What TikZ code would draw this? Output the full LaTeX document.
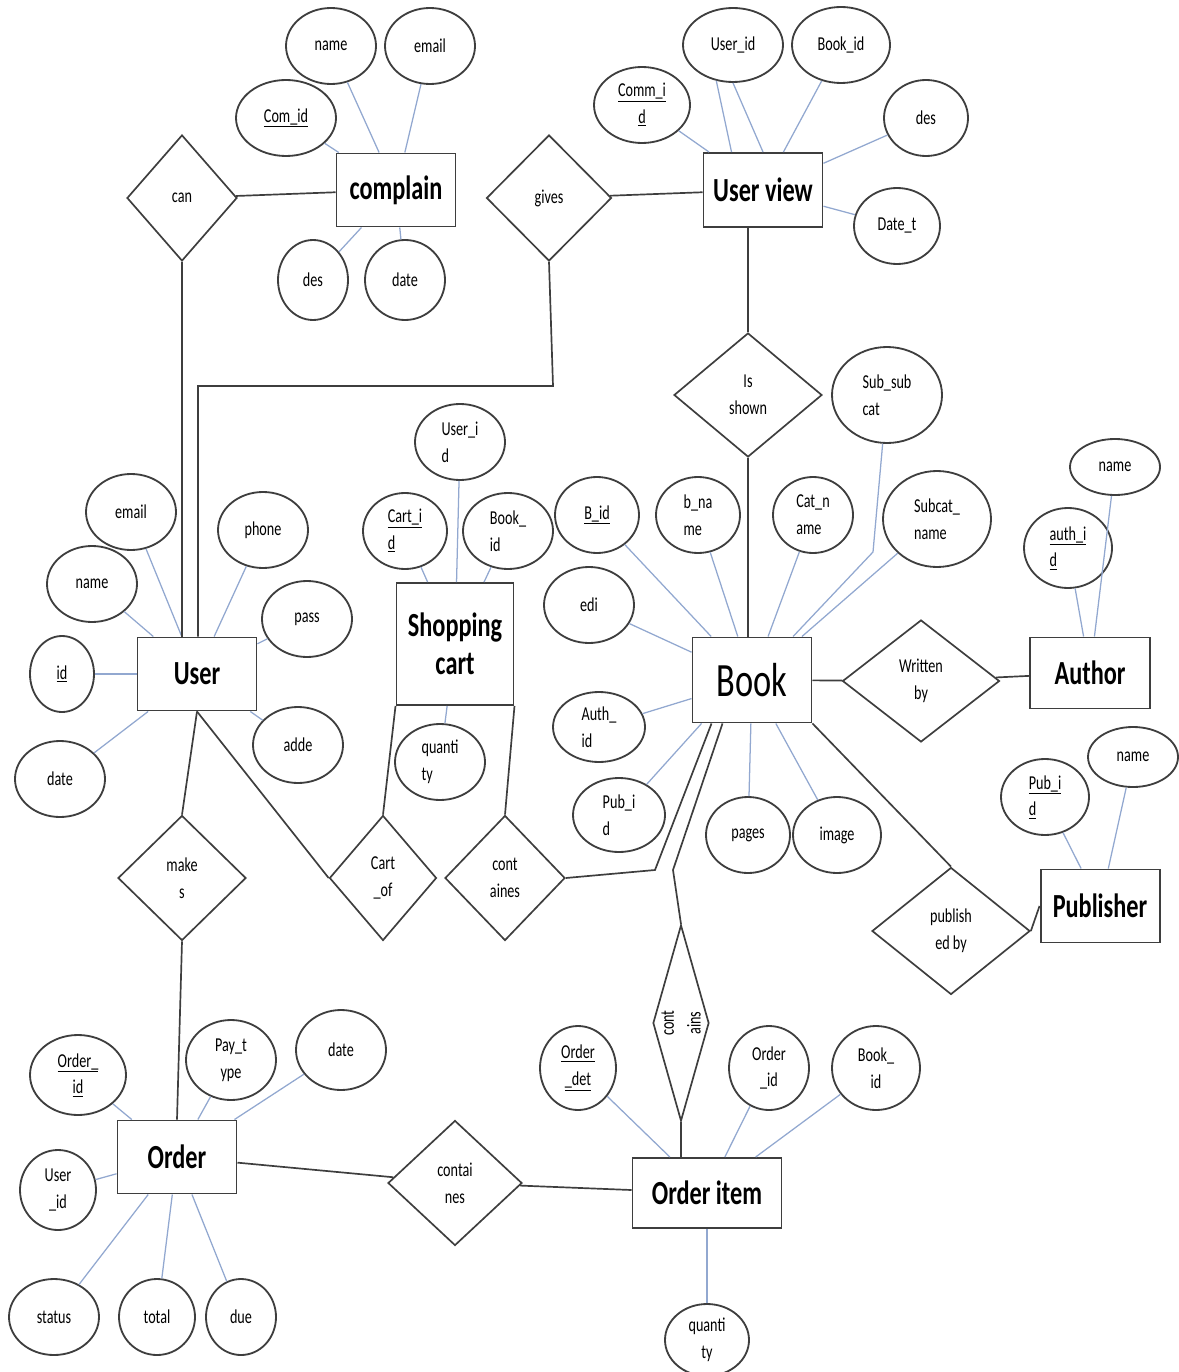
\documentclass[tikz,border=0pt]{standalone}
\usepackage{fontspec}
\newfontfamily\erfont{Carlito}[FakeStretch=0.72]
\usepackage{tikz}
\usetikzlibrary{calc,positioning,shapes.geometric}
\definecolor{edgegray}{RGB}{62,62,62}
\definecolor{attrblue}{RGB}{146,168,208}

\begin{document}
\begin{tikzpicture}[x=0.25mm,y=-0.25mm,
  sz/.style 2 args={minimum width=#1*0.25mm,minimum height=#2*0.25mm},
  ent/.style={rectangle,draw=edgegray,line width=1.4pt,inner sep=0pt,align=center,font=\erfont\fontsize{24}{27}\selectfont\bfseries},
  rel/.style={diamond,draw=edgegray,line width=1.2pt,inner sep=0pt,align=center,font=\erfont\fontsize{14}{19}\selectfont},
  attr/.style={ellipse,draw=edgegray,line width=1.3pt,inner sep=0pt,align=center,sz={90}{76},font=\erfont\fontsize{14}{19}\selectfont},
  link/.style={edgegray,line width=1.2pt},
  alink/.style={attrblue,line width=0.9pt}]
  \useasboundingbox (0,0) rectangle (1178,1372);

  \node[ent,sz={119}{73}] (eComplain) at (396,190) {complain};
  \node[ent,sz={119}{74}] (eUserView) at (763,190) {User view};
  \node[ent,sz={119}{85},font=\erfont\fontsize{34}{38}\selectfont] (eBook) at (752,680) {Book};
  \node[ent,sz={120}{71}] (eAuthor) at (1090,673) {Author};
  \node[ent,sz={119}{73}] (ePublisher) at (1100,906) {Publisher};
  \node[ent,sz={117}{122}] (eCart) at (455,644) {Shopping\\cart};
  \node[ent,sz={119}{73}] (eUser) at (197,674) {User};
  \node[ent,sz={119}{73}] (eOrder) at (177,1157) {Order};
  \node[ent,sz={149}{70}] (eOrderItem) at (707,1193) {Order item};

  \node[rel,sz={110}{126}] (rCan) at (182,198) {can};
  \node[rel,sz={125}{126}] (rGives) at (549,198) {gives};
  \node[rel,sz={148}{124}] (rShown) at (748,395) {Is\\shown};
  \node[rel,sz={157}{122}] (rWritten) at (921,681) {Written\\by};
  \node[rel,sz={158}{127}] (rPubBy) at (951,931) {publish\\ed by};
  \node[rel,sz={128}{125}] (rMakes) at (182,878) {make\\s};
  \node[rel,sz={107}{125}] (rCartOf) at (383,878) {Cart\\\_of};
  \node[rel,sz={120}{125}] (rCartHas) at (505,878) {cont\\aines};
  \node[rel,sz={196}{56},aspect=3.5,rotate=90] (rItemOf) at (681,1023) {cont\\ains};
  \node[rel,sz={134}{125}] (rOrderHas) at (455,1183) {contai\\nes};

  \node[attr] (aComName) at (331,46) {name};
  \node[attr] (aComEmail) at (430,46) {email};
  \node[attr,sz={100}{76}] (aComId) at (286,118) {\underline{Com\_id}};
  \node[attr,sz={70}{80}] (aComDes) at (313,280) {des};
  \node[attr,sz={80}{80}] (aComDate) at (405,280) {date};

  \node[attr,sz={96}{76}] (aViewComm) at (642,105) {\underline{Comm\_i}\\\underline{d}};
  \node[attr,sz={100}{74}] (aViewUser) at (733,45) {User\_id};
  \node[attr,sz={98}{76}] (aViewBook) at (841,45) {Book\_id};
  \node[attr,sz={84}{76}] (aViewDes) at (926,118) {des};
  \node[attr,sz={86}{76}] (aViewDate) at (897,226) {Date\_t};

  \node[attr,sz={110}{96},align=left] (aSubSub) at (887,395) {Sub\_sub\\cat};
  \node[attr,sz={84}{76}] (aBookId) at (597,515) {\underline{B\_id}};
  \node[attr,sz={84}{76},align=left] (aBookName) at (698,515) {b\_na\\me};
  \node[attr,sz={80}{76},align=left] (aCatName) at (813,515) {Cat\_n\\ame};
  \node[attr,sz={108}{96},align=left] (aSubcat) at (937,519) {Subcat\_\\name};
  \node[attr] (aEdi) at (589,605) {edi};
  \node[attr,sz={92}{70},align=left] (aAuthId) at (599,727) {Auth\_\\id};
  \node[attr,sz={92}{74},align=left] (aPubId) at (619,815) {Pub\_i\\d};
  \node[attr,sz={84}{76}] (aPages) at (748,835) {pages};
  \node[attr,sz={88}{76}] (aImage) at (837,835) {image};

  \node[attr,sz={88}{80},align=left] (aAuthKey) at (1068,548) {\underline{auth\_i}\\\underline{d}};
  \node[attr,sz={90}{56}] (aAuthName) at (1115,467) {name};
  \node[attr,sz={88}{76},align=left] (aPubKey) at (1045,797) {\underline{Pub\_i}\\\underline{d}};
  \node[attr,sz={90}{60}] (aPubName) at (1133,757) {name};

  \node[attr,align=left] (aCartUser) at (460,442) {User\_i\\d};
  \node[attr,sz={84}{76},align=left] (aCartId) at (405,531) {\underline{Cart\_i}\\\underline{d}};
  \node[attr,align=left] (aCartBook) at (508,531) {Book\_\\id};
  \node[attr,align=left] (aCartQty) at (440,762) {quanti\\ty};

  \node[attr] (aUserEmail) at (131,512) {email};
  \node[attr] (aUserName) at (92,584) {name};
  \node[attr] (aUserPhone) at (263,530) {phone};
  \node[attr] (aUserPass) at (307,619) {pass};
  \node[attr,sz={64}{76}] (aUserId) at (62,674) {\underline{id}};
  \node[attr] (aUserAdde) at (298,745) {adde};
  \node[attr] (aUserDate) at (60,779) {date};

  \node[attr,sz={96}{80}] (aOrderId) at (78,1075) {\underline{Order\_}\\\underline{id}};
  \node[attr,sz={90}{80}] (aOrderPay) at (231,1060) {Pay\_t\\ype};
  \node[attr,sz={90}{80}] (aOrderDate) at (341,1050) {date};
  \node[attr,sz={76}{80}] (aOrderUser) at (58,1190) {User\\\_id};
  \node[attr] (aOrderStatus) at (54,1317) {status};
  \node[attr,sz={76}{76}] (aOrderTotal) at (157,1317) {total};
  \node[attr,sz={70}{76}] (aOrderDue) at (241,1317) {due};

  \node[attr,sz={76}{84}] (aItemDet) at (578,1068) {\underline{Order}\\\underline{\_det}};
  \node[attr,sz={80}{84}] (aItemOrder) at (769,1068) {Order\\\_id};
  \node[attr,sz={88}{84}] (aItemBook) at (876,1068) {Book\_\\id};
  \node[attr,sz={84}{72}] (aItemQty) at (707,1340) {quanti\\ty};

  \coordinate (pSubBend) at (873,552);
  \coordinate (pGivesA) at (553,386);
  \coordinate (pGivesB) at (198,386);
  \coordinate (pHasBend) at (655,870);
  \coordinate (pItemBend) at (673,870);
  \coordinate (pBookFootA) at ($(eBook.south west)+(20,0)$);
  \coordinate (pBookFootB) at ($(eBook.south west)+(31,0)$);
  \coordinate (pBookFootC) at ($(eBook.south west)+(10,0)$);

  \draw[alink] (aComName) -- (eComplain);
  \draw[alink] (aComEmail) -- (eComplain);
  \draw[alink] (aComId) -- (eComplain);
  \draw[alink] (aComDes) -- (eComplain);
  \draw[alink] (aComDate) -- (eComplain);
  \draw[alink] (aViewComm) -- (eUserView);
  \draw[alink] (aViewUser.245) -- ($(eUserView.north west)+(29,0)$);
  \draw[alink] (aViewUser.south) -- (eUserView.north);
  \draw[alink] (aViewBook) -- (eUserView);
  \draw[alink] (aViewDes) -- (eUserView);
  \draw[alink] (aViewDate) -- (eUserView);
  \draw[alink] (aSubSub) -- (pSubBend) -- (eBook);
  \draw[alink] (aBookId) -- (eBook);
  \draw[alink] (aBookName) -- (eBook);
  \draw[alink] (aCatName) -- (eBook);
  \draw[alink] (aSubcat) -- (eBook);
  \draw[alink] (aEdi) -- (eBook);
  \draw[alink] (aAuthId) -- (eBook);
  \draw[alink] (aPubId) -- (pBookFootC);
  \draw[alink] (aPages) -- (eBook);
  \draw[alink] (aImage) -- (eBook);
  \draw[alink] (aAuthKey) -- (eAuthor);
  \draw[alink] (aAuthName) -- (eAuthor);
  \draw[alink] (aPubKey) -- (ePublisher);
  \draw[alink] (aPubName) -- (ePublisher);
  \draw[alink] (aCartUser) -- (eCart);
  \draw[alink] (aCartId) -- (eCart);
  \draw[alink] (aCartBook) -- (eCart);
  \draw[alink] (aCartQty) -- (eCart);
  \draw[alink] (aUserEmail) -- (eUser);
  \draw[alink] (aUserName) -- (eUser);
  \draw[alink] (aUserPhone) -- (eUser);
  \draw[alink] (aUserPass) -- (eUser);
  \draw[alink] (aUserId) -- (eUser);
  \draw[alink] (aUserAdde) -- (eUser);
  \draw[alink] (aUserDate) -- (eUser);
  \draw[alink] (aOrderId) -- (eOrder);
  \draw[alink] (aOrderPay) -- (eOrder);
  \draw[alink] (aOrderDate) -- (eOrder);
  \draw[alink] (aOrderUser) -- (eOrder);
  \draw[alink] (aOrderStatus) -- (eOrder);
  \draw[alink] (aOrderTotal) -- (eOrder);
  \draw[alink] (aOrderDue) -- (eOrder);
  \draw[alink] (aItemDet) -- (eOrderItem);
  \draw[alink] (aItemOrder) -- (eOrderItem);
  \draw[alink] (aItemBook) -- (eOrderItem);
  \draw[alink] (aItemQty) -- (eOrderItem);

  \draw[link] (rCan) -- (eComplain);
  \draw[link] (rGives) -- (eUserView);
  \draw[link] (rCan.south) -- (rCan.south |- eUser.north);
  \draw[link] (rGives.south) -- (pGivesA) -- (pGivesB) -- (pGivesB |- eUser.north);
  \draw[link] (rShown.north) -- (rShown.north |- eUserView.south);
  \draw[link] (rShown.south) -- (rShown.south |- eBook.north);
  \draw[link] (eBook) -- (rWritten);
  \draw[link] (rWritten) -- (eAuthor);
  \draw[link] (eBook.south east) -- (rPubBy.north);
  \draw[link] (rPubBy.east) -- (ePublisher.west);
  \draw[link] (eUser.south) -- (rMakes.north);
  \draw[link] (rMakes.south) -- (eOrder.north);
  \draw[link] (eUser.south) -- (rCartOf.west);
  \draw[link] (eCart.south west) -- (rCartOf.north);
  \draw[link] (eCart.south east) -- (rCartHas.north);
  \draw[link] (rCartHas.east) -- (pHasBend) -- (pBookFootA);
  \draw[link] (pBookFootB) -- (pItemBend) -- (rItemOf.east);
  \draw[link] (rItemOf.west) -- (rItemOf.west |- eOrderItem.north);
  \draw[link] (eOrder) -- (rOrderHas);
  \draw[link] (rOrderHas) -- (eOrderItem);
\end{tikzpicture}
\end{document}
